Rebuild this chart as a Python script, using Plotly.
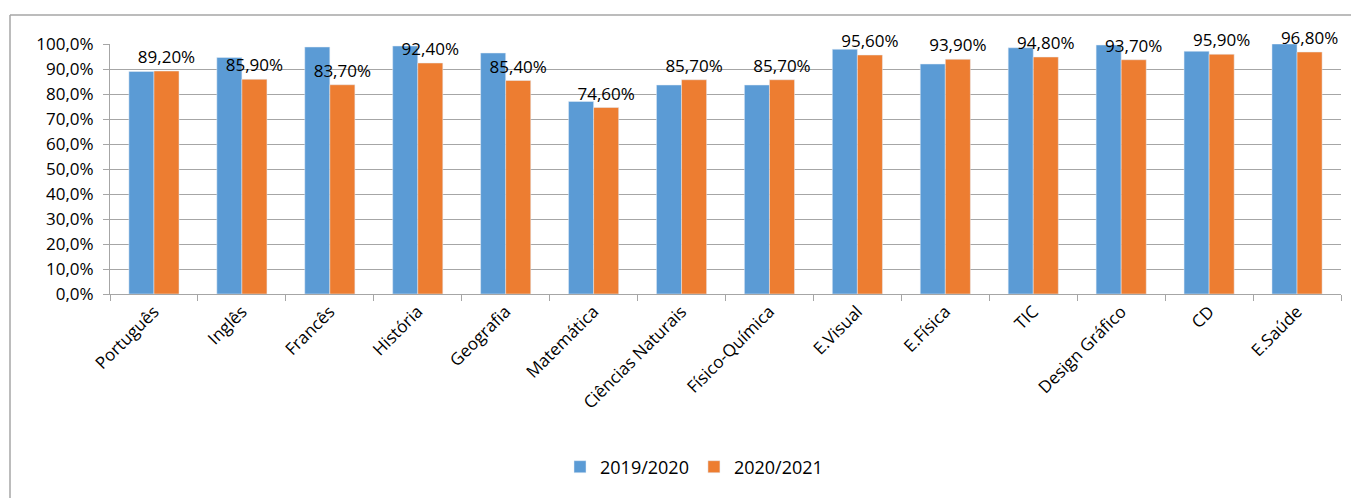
import plotly.graph_objects as go

categories = ["Português", "Inglês", "Francês", "História", "Geografia", "Matemática",
              "Ciências Naturais", "Físico-Química", "E.Visual", "E.Física", "TIC",
              "Design Gráfico", "CD", "E.Saúde"]
series_2019 = [89.0, 94.6, 98.8, 99.2, 96.4, 77.0, 83.6, 83.6, 97.9, 92.0, 98.5, 99.6, 97.1, 100.0]
series_2020 = [89.2, 85.9, 83.7, 92.4, 85.4, 74.6, 85.7, 85.7, 95.6, 93.9, 94.8, 93.7, 95.9, 96.8]
y_ticks = [0, 10, 20, 30, 40, 50, 60, 70, 80, 90, 100]
y_tick_labels = [f"{v:.1f}%".replace(".", ",") for v in y_ticks]

FONT = "Open Sans"
OFF = 8  # page body margin
W, H = 1359 - OFF, 498 - OFF
L, T = 110 - OFF, 44 - OFF
R = W - (1341 - OFF)
B = H - (294 - OFF)
PW, PH = W - L - R, H - T - B

fig = go.Figure()
fig.add_trace(go.Bar(x=categories, y=series_2019, name="2019/2020",
                     marker_color="#5B9BD5", cliponaxis=False))
fig.add_trace(go.Bar(x=categories, y=series_2020, name="2020/2021",
                     marker_color="#ED7D31", texttemplate="%{y:.2f}%",
                     textposition="outside", cliponaxis=False, constraintext="none",
                     textfont=dict(family=FONT, size=17, color="#000000")))

fig.update_layout(
    width=W, height=H,
    margin=dict(l=L, r=R, t=T, b=B, autoexpand=False),
    paper_bgcolor="white", plot_bgcolor="white",
    separators=",.",
    barmode="group", bargap=0.43, bargroupgap=0,
    font=dict(family=FONT, size=16, color="#000000"),
    legend=dict(orientation="h", x=(694 - OFF - L) / PW, xanchor="center",
                y=(H - B - (467 - OFF)) / PH, yanchor="middle",
                font=dict(family=FONT, size=18), itemwidth=30),
    shapes=[
        dict(type="line", xref="paper", yref="paper",
             x0=-(L - (10 - OFF)) / PW, x1=1.2,
             y0=1 + (T - (15 - OFF)) / PH, y1=1 + (T - (15 - OFF)) / PH,
             line=dict(color="#a6a6a6", width=1.5)),
        dict(type="line", xref="paper", yref="paper",
             x0=-(L - (10 - OFF)) / PW, x1=-(L - (10 - OFF)) / PW,
             y0=1 + (T - (15 - OFF)) / PH, y1=-1.5,
             line=dict(color="#a6a6a6", width=1.5)),
    ],
)
fig.update_yaxes(range=[0, 100], tickvals=y_ticks, ticktext=y_tick_labels,
                 showgrid=True, gridcolor="#a6a6a6", gridwidth=1,
                 showline=True, linecolor="#a6a6a6", linewidth=1,
                 ticks="outside", ticklen=6, tickcolor="#a6a6a6",
                 ticklabelstandoff=6,
                 zeroline=False, tickfont=dict(family=FONT, size=17))
fig.update_xaxes(tickangle=-45, showline=True, linecolor="#a6a6a6", linewidth=1,
                 ticks="outside", ticklen=6, tickcolor="#a6a6a6", tickson="boundaries",
                 tickfont=dict(family=FONT, size=17))

fig.write_html("out.html")
